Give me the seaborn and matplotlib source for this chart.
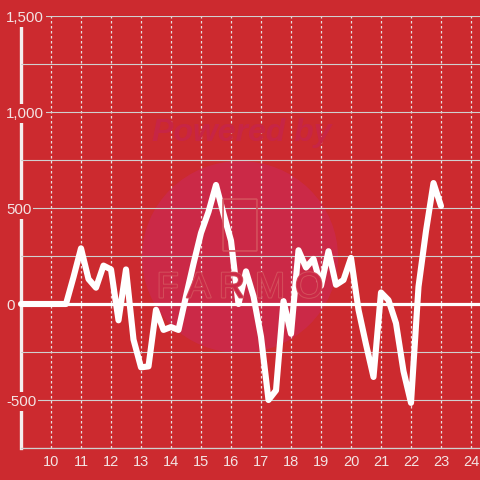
import numpy as np
import pandas as pd
import matplotlib
matplotlib.use("Agg")
import matplotlib.pyplot as plt
import matplotlib.patheffects as pe
from matplotlib.patches import Ellipse, FancyBboxPatch
import seaborn as sns

# data (one point every quarter hour)
hours = [9.0, 9.25, 9.5, 9.75, 10.0, 10.25, 10.5, 10.75,
         11.0, 11.25, 11.5, 11.75, 12.0, 12.25, 12.5, 12.75,
         13.0, 13.25, 13.5, 13.75, 14.0, 14.25, 14.5, 14.75,
         15.0, 15.25, 15.5, 15.75, 16.0, 16.25, 16.5, 16.75,
         17.0, 17.25, 17.5, 17.75, 18.0, 18.25, 18.5, 18.75,
         19.0, 19.25, 19.5, 19.75, 20.0, 20.25, 20.5, 20.75,
         21.0, 21.25, 21.5, 21.75, 22.0, 22.25, 22.5, 22.75, 23.0]
values = [0, 0, 0, 0, 0, 0, 0, 140,
          290, 130, 85, 200, 180, -85, 180, -185,
          -330, -325, -30, -135, -120, -135, 40, 210,
          370, 480, 620, 470, 330, 0, 170, 40,
          -170, -500, -450, 15, -155, 280, 190, 235,
          95, 275, 100, 125, 240, -30, -210, -380,
          60, 20, -100, -350, -515, 90, 380, 630, 510]

y_major = [-500, 0, 500, 1000, 1500]
y_major_labels = ["-500", "0", "500", "1,000", "1,500"]
y_minor = [-750, -250, 250, 750, 1250]
x_ticks = list(range(10, 25))
x_labels = [str(t) for t in x_ticks]

df = pd.DataFrame({"hour": hours, "value": values})

bg = "#cc2a2f"
txt = "#f3e3e3"

sns.set_style("white")
plt.rcParams["font.family"] = ["Liberation Sans", "DejaVu Sans"]

fig = plt.figure(figsize=(4.8, 4.8), dpi=100, facecolor=bg)
ax = fig.add_axes([21 / 480, 32 / 480, 459 / 480, 432 / 480])
ax.set_facecolor(bg)
ax.set_axisbelow(True)

# watermark
ax.add_patch(Ellipse((240, 223), 196, 192, transform=None, facecolor="#cb2947",
                     edgecolor="none", zorder=0.1))
fig.text(242 / 480, 1 - 133 / 480, "Powered by", ha="center", va="center",
         fontsize=23, fontweight="bold", style="italic", color="#c72545", zorder=0.2)
fig.text(240 / 480, 1 - 288 / 480, "F A R M O", ha="center", va="center",
         fontsize=26, color="#cb2947", zorder=0.2,
         path_effects=[pe.withStroke(linewidth=1.4, foreground="#d4505c")])
fig.patches.append(FancyBboxPatch((224 / 480, 1 - 250 / 480), 32 / 480, 50 / 480,
                                  boxstyle="round,pad=0.002", transform=fig.transFigure,
                                  facecolor="none", edgecolor="#d4505c", lw=1.2, zorder=0.2))

ax.axhline(0, color="white", lw=2.3, zorder=1.5)

sns.lineplot(data=df, x="hour", y="value", ax=ax, color="white", lw=4.4,
             zorder=3, clip_on=False)

ax.set_xlim(9.0, 24.3)
ax.set_ylim(-750, 1500)

ax.set_yticks(y_major)
ax.set_yticklabels(y_major_labels)
ax.set_yticks(y_minor, minor=True)
ax.set_xticks(x_ticks)
ax.set_xticklabels(x_labels)

ax.grid(axis="y", which="both", color="#d0d0d0", lw=0.8, ls="-")
ax.grid(axis="x", which="major", color="#e8e0e0", lw=0.9, ls=(0, (2, 2)))

ax.tick_params(axis="y", which="both", length=0, pad=10.8, labelsize=10.8, colors=txt)
ax.tick_params(axis="x", length=0, pad=5, labelsize=10.5, colors=txt)
for lab in ax.get_yticklabels():
    lab.set_horizontalalignment("left")
    lab.set_bbox(dict(facecolor=bg, edgecolor="none", pad=1.5))

for s in ["top", "right"]:
    ax.spines[s].set_visible(False)
ax.spines["bottom"].set_color("#d0d0d0")
ax.spines["bottom"].set_linewidth(0.9)
ax.spines["left"].set_color("#f5eeee")
ax.spines["left"].set_linewidth(2.4)
ax.spines["left"].set_zorder(0.4)

ax.set_xlabel("")
ax.set_ylabel("")

plt.savefig("out.png", dpi=100, facecolor=bg)
